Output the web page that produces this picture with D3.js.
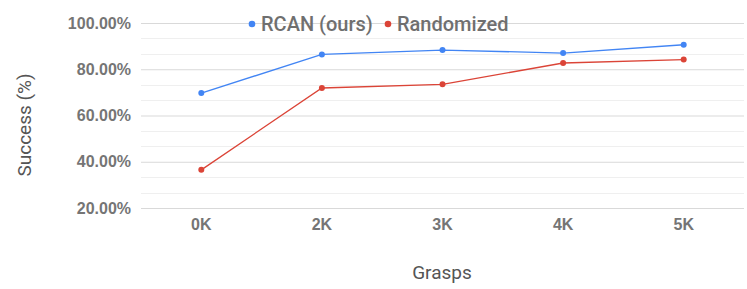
<!DOCTYPE html>
<html>
<head>
<meta charset="utf-8">
<script src="https://cdn.jsdelivr.net/npm/d3@7"></script>
<style>
  body { margin: 0; background: #fff; }
  svg { display: block; font-family: Roboto, "Noto Sans", sans-serif; }
</style>
</head>
<body>
<div id="chart"></div>
<script>
// Data
var categories = ['0K', '2K', '3K', '4K', '5K'];
var rcanValues = [69.7, 86.4, 88.3, 87.0, 90.6];
var randomizedValues = [36.5, 71.9, 73.5, 82.7, 84.2];
var seriesNames = ['RCAN (ours)', 'Randomized'];
var yTicks = [20, 40, 60, 80, 100];

var width = 747, height = 289;
var blue = '#4285f4', red = '#db4437';

var svg = d3.select('#chart').append('svg')
    .attr('width', width)
    .attr('height', height);

// Scales
var x = d3.scaleBand().domain(categories).range([141, 744]);
var y = d3.scaleLinear().domain([20, 100]).range([208, 23]);

// Minor gridlines (two between each major)
var minor = [];
for (var i = 0; i < yTicks.length - 1; i++) {
    var step = (yTicks[i + 1] - yTicks[i]) / 3;
    minor.push(yTicks[i] + step, yTicks[i] + 2 * step);
}
svg.append('g').selectAll('line').data(minor).enter().append('line')
    .attr('x1', 141).attr('x2', 744)
    .attr('y1', function(d) { return Math.round(y(d)) + 0.5; })
    .attr('y2', function(d) { return Math.round(y(d)) + 0.5; })
    .attr('stroke', '#efefef');

// Y axis with major gridlines
var yAxis = d3.axisLeft(y).tickValues(yTicks)
    .tickSize(-(744 - 141))
    .tickPadding(10)
    .tickFormat(function(d) { return d.toFixed(2) + '%'; });
var gy = svg.append('g').attr('transform', 'translate(141,0)').call(yAxis);
gy.select('.domain').remove();
gy.selectAll('.tick line').attr('stroke', '#d9d9d9');
gy.selectAll('.tick text')
    .attr('fill', '#757575')
    .style('font-size', '16px')
    .style('font-weight', 'bold');

// X axis labels
var gx = svg.append('g').attr('transform', 'translate(0,215)')
    .call(d3.axisBottom(x).tickSize(0).tickPadding(4));
gx.select('.domain').remove();
gx.selectAll('.tick text')
    .attr('fill', '#757575')
    .style('font-size', '16px')
    .style('font-weight', 'bold');

// Lines
var line = d3.line()
    .x(function(d, i) { return x(categories[i]) + x.bandwidth() / 2; })
    .y(function(d) { return y(d); });

[[rcanValues, blue], [randomizedValues, red]].forEach(function(s) {
    svg.append('path')
        .datum(s[0])
        .attr('fill', 'none')
        .attr('stroke', s[1])
        .attr('stroke-width', 1.3)
        .attr('d', line);
    svg.append('g').selectAll('circle').data(s[0]).enter().append('circle')
        .attr('cx', function(d, i) { return x(categories[i]) + x.bandwidth() / 2; })
        .attr('cy', function(d) { return y(d); })
        .attr('r', 3)
        .attr('fill', s[1]);
});

// Legend
var legend = svg.append('g').attr('transform', 'translate(252,24)');
var legendX = [0, 136];
var legendColors = [blue, red];
seriesNames.forEach(function(name, i) {
    legend.append('circle')
        .attr('cx', legendX[i]).attr('cy', 0).attr('r', 3.3)
        .attr('fill', legendColors[i]);
    legend.append('text')
        .attr('x', legendX[i] + 9).attr('y', 7)
        .attr('fill', '#6f6f6f')
        .style('font-size', '20px')
        .style('font-weight', 500)
        .text(name);
});

// Axis titles
svg.append('text')
    .attr('transform', 'translate(31,125) rotate(-90)')
    .attr('text-anchor', 'middle')
    .attr('fill', '#555')
    .style('font-size', '19px')
    .text('Success (%)');

svg.append('text')
    .attr('x', 442).attr('y', 279)
    .attr('text-anchor', 'middle')
    .attr('fill', '#555')
    .style('font-size', '19px')
    .text('Grasps');
</script>
</body>
</html>
